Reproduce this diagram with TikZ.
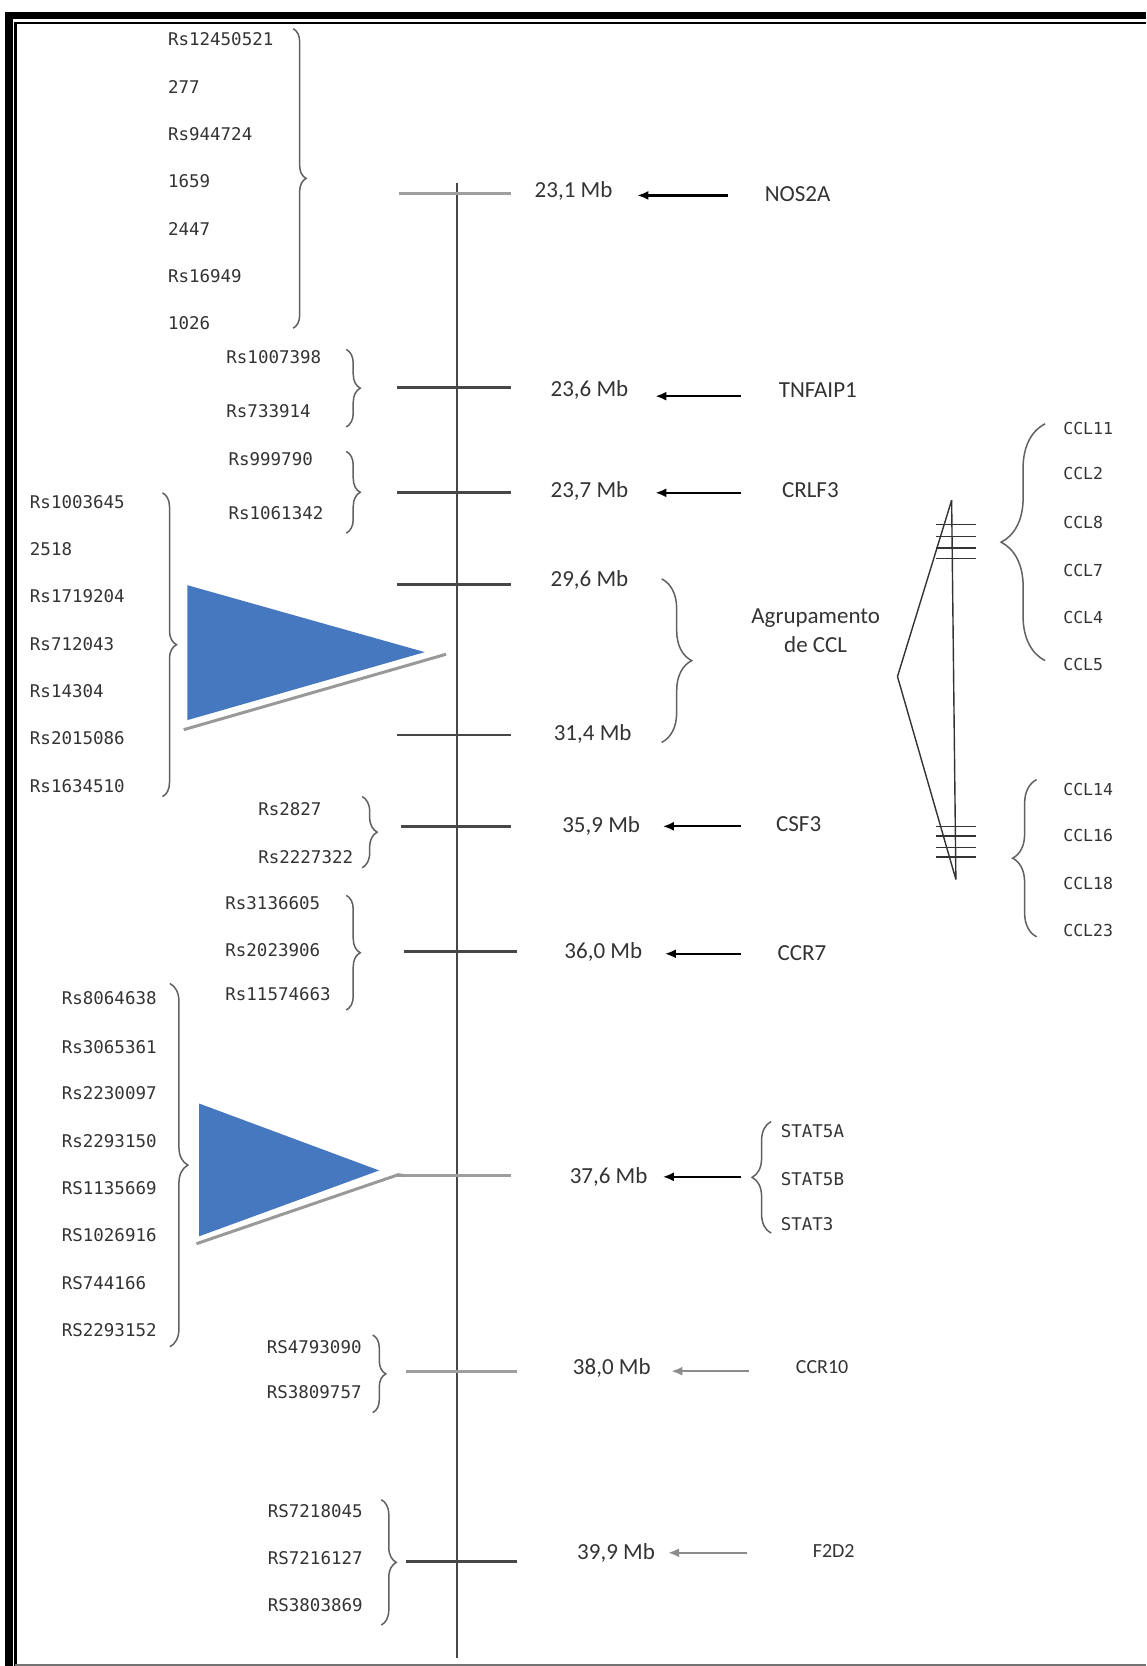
\documentclass[tikz,border=0pt]{standalone}
\usepackage{fontspec}
\setmainfont{Carlito}
\newfontfamily\monof{DejaVu Sans Mono}
\usetikzlibrary{decorations.pathreplacing,arrows.meta}
\definecolor{triblue}{RGB}{70,120,192}
\begin{document}
\begin{tikzpicture}[x=1.0621pt,y=-1.0621pt,
  txt/.style={inner sep=0pt, text=black!80},
  rs/.style={txt, anchor=west, font=\monof\fontsize{17.5}{20}\selectfont},
  ccl/.style={txt, anchor=west, font=\monof\fontsize{16.5}{19}\selectfont},
  mb/.style={txt, font=\fontsize{23}{26}\selectfont},
  gene/.style={txt, font=\fontsize{23}{26}\selectfont},
  sgene/.style={txt, font=\fontsize{20}{24}\selectfont},
  chrom/.style={draw=black!72, line width=1.6pt},
  tickd/.style={draw=black!72, line width=2.8pt},
  tickl/.style={draw=black!38, line width=2.8pt},
  arr/.style={draw=black, line width=2.2pt, -{Latex[length=11pt,width=9pt]}},
  larr/.style={draw=black!45, line width=2.6pt, -{Latex[length=11pt,width=9pt]}},
  brc/.style={draw=black!62, line width=1.5pt, decorate, decoration={brace, amplitude=#1}},
  cclline/.style={draw=black!80, line width=1.4pt},
  shadow/.style={draw=black!40, line width=3pt},
]
\useasboundingbox (0,0) rectangle (1079,1568.6);

% frame
\fill[black] (4.7,11.3) rectangle (1079,18.2);
\fill[black] (4.7,11.3) rectangle (12.2,1568.6);
\draw[black, line width=2.4pt] (14.5,1568.6) -- (14.5,21.4) -- (1079,21.4);
\draw[black!55, line width=2pt] (14.5,1567.6) -- (1079,1567.6);

% chromosome axis
\coordinate (chrTop) at (430,172);
\coordinate (chrBot) at (430,1561);
\draw[chrom] (chrTop) -- (chrBot);

% ticks
\draw[tickl] (376,182) -- (481,182);
\draw[tickd] (374,365) -- (481,365);
\draw[tickd] (374,464) -- (481,464);
\draw[tickd] (374,550) -- (481,550);
\draw[tickd] (374,692) -- (481,692);
\draw[tickd] (378,778) -- (481,778);
\draw[tickd] (380,896) -- (487,896);
\draw[tickl] (374,1107) -- (481,1107);
\draw[tickl] (382,1291) -- (487,1291);
\draw[tickd] (382,1470) -- (487,1470);

% triangles
\fill[triblue] (176.5,551) -- (176.5,678) -- (400,614) -- cycle;
\draw[shadow] (173,687) -- (420,616);
\fill[triblue] (187.5,1039) -- (187.5,1164) -- (357,1102) -- cycle;
\draw[shadow] (185,1171) -- (375,1106) -- (381,1107);

% Mb labels
\node[mb] (m1) at (540,180) {23,1 Mb};
\node[mb] (m2) at (555,367) {23,6 Mb};
\node[mb] (m3) at (555,462) {23,7 Mb};
\node[mb] (m4) at (555,546) {29,6 Mb};
\node[mb] (m5) at (558,691) {31,4 Mb};
\node[mb] (m6) at (566,778) {35,9 Mb};
\node[mb] (m7) at (568,896) {36,0 Mb};
\node[mb] (m8) at (573,1108) {37,6 Mb};
\node[mb] (m9) at (576,1288) {38,0 Mb};
\node[mb] (m10) at (580,1462) {39,9 Mb};

% genes
\node[gene] (g1) at (751,183) {NOS2A};
\node[gene] (g2) at (770,367) {TNFAIP1};
\node[gene] (g3) at (763,461) {CRLF3};
\node[gene, align=center, font=\fontsize{23}{29}\selectfont] (g4) at (768,594) {Agrupamento\\de CCL};
\node[gene] (g6) at (752,776) {CSF3};
\node[gene] (g7) at (755,897) {CCR7};
\node[sgene] (g9) at (774,1287) {CCR10};
\node[sgene] (g10) at (785,1460) {F2D2};

% arrows
\coordinate (a1s) at (685,184); \coordinate (a1e) at (600,184);
\coordinate (a2s) at (698,373); \coordinate (a2e) at (617,373);
\coordinate (a3s) at (698,464); \coordinate (a3e) at (617,464);
\coordinate (a6s) at (698,778); \coordinate (a6e) at (624,778);
\coordinate (a7s) at (698,898); \coordinate (a7e) at (626,898);
\coordinate (a8s) at (698,1108); \coordinate (a8e) at (624,1108);
\coordinate (a9s) at (705,1291); \coordinate (a9e) at (632,1291);
\coordinate (a10s) at (703,1462); \coordinate (a10e) at (629,1462);
\draw[arr] (a1s) -- (a1e);
\draw[arr] (a2s) -- (a2e);
\draw[arr] (a3s) -- (a3e);
\draw[arr] (a6s) -- (a6e);
\draw[arr] (a7s) -- (a7e);
\draw[arr] (a8s) -- (a8e);
\draw[larr] (a9s) -- (a9e);
\draw[larr] (a10s) -- (a10e);

% STAT genes
\node[rs] (s1) at (735,1065) {STAT5A};
\node[rs] (s2) at (735,1110) {STAT5B};
\node[rs] (s3) at (735,1153) {STAT3};
\draw[brc=19pt] (726,1161) -- (726,1056);

% rs groups
\node[rs] (r11) at (158,37) {Rs12450521};
\node[rs] (r12) at (158,82) {277};
\node[rs] (r13) at (158,126) {Rs944724};
\node[rs] (r14) at (158,171) {1659};
\node[rs] (r15) at (158,216) {2447};
\node[rs] (r16) at (158,260) {Rs16949};
\node[rs] (r17) at (158,304) {1026};
\draw[brc=13pt] (276,27) -- (276,309);

\node[rs] (r21) at (213,336) {Rs1007398};
\node[rs] (r22) at (213,387) {Rs733914};
\draw[brc=14pt] (326,329) -- (326,402);

\node[rs] (r31) at (215,432) {Rs999790};
\node[rs] (r32) at (215,483) {Rs1061342};
\draw[brc=14pt] (326,425) -- (326,502);

\node[rs] (r41) at (28,473) {Rs1003645};
\node[rs] (r42) at (28,517) {2518};
\node[rs] (r43) at (28,561) {Rs1719204};
\node[rs] (r44) at (28,606) {Rs712043};
\node[rs] (r45) at (28,651) {Rs14304};
\node[rs] (r46) at (28,695) {Rs2015086};
\node[rs] (r47) at (28,740) {Rs1634510};
\draw[brc=14pt] (153,464) -- (153,750);

\draw[brc=30pt] (623,545) -- (623,699);

\node[rs] (r51) at (243,762) {Rs2827};
\node[rs] (r52) at (243,807) {Rs2227322};
\draw[brc=15pt] (341,750) -- (341,817);

\node[rs] (r61) at (212,850) {Rs3136605};
\node[rs] (r62) at (212,895) {Rs2023906};
\node[rs] (r63) at (212,936) {Rs11574663};
\draw[brc=14pt] (326,843) -- (326,951);

\node[rs] (r71) at (58,940) {Rs8064638};
\node[rs] (r72) at (58,986) {Rs3065361};
\node[rs] (r73) at (58,1029) {Rs2230097};
\node[rs] (r74) at (58,1074) {Rs2293150};
\node[rs] (r75) at (58,1119) {RS1135669};
\node[rs] (r76) at (58,1163) {RS1026916};
\node[rs] (r77) at (58,1208) {RS744166};
\node[rs] (r78) at (58,1252) {RS2293152};
\draw[brc=18pt] (160,926) -- (160,1268);

\node[rs] (r81) at (251,1268) {RS4793090};
\node[rs] (r82) at (251,1311) {RS3809757};
\draw[brc=13pt] (351,1257) -- (351,1330);

\node[rs] (r91) at (252,1423) {RS7218045};
\node[rs] (r92) at (252,1467) {RS7216127};
\node[rs] (r93) at (252,1511) {RS3803869};
\draw[brc=15pt] (359,1412) -- (359,1530);

% CCL cluster detail
\coordinate (cTop) at (896,471);
\coordinate (cLeft) at (845,637);
\coordinate (cBot) at (900,828);
\draw[cclline] (cTop) -- (cBot);
\draw[cclline] (cTop) -- (cLeft) -- (cBot);
\foreach \yy in {494,505,516,526} \draw[cclline] (881,\yy) -- (919,\yy);
\foreach \yy in {778,787,798,807} \draw[cclline] (881,\yy) -- (919,\yy);

\node[ccl] (c1) at (1001,403) {CCL11};
\node[ccl] (c2) at (1001,446) {CCL2};
\node[ccl] (c3) at (1001,492) {CCL8};
\node[ccl] (c4) at (1001,537) {CCL7};
\node[ccl] (c5) at (1001,581) {CCL4};
\node[ccl] (c6) at (1001,626) {CCL5};
\draw[brc=44pt] (984,622) -- (984,399);

\node[ccl] (c7) at (1001,743) {CCL14};
\node[ccl] (c8) at (1001,787) {CCL16};
\node[ccl] (c9) at (1001,832) {CCL18};
\node[ccl] (c10) at (1001,876) {CCL23};
\draw[brc=24pt] (976,882) -- (976,734);
\end{tikzpicture}
\end{document}
